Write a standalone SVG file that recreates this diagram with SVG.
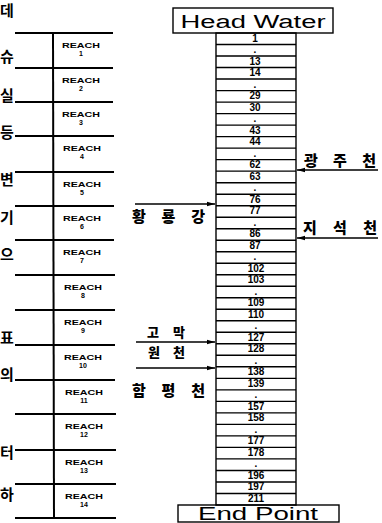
<svg xmlns="http://www.w3.org/2000/svg" width="382" height="523" viewBox="0 0 382 523">
<style>
.ln{stroke:#000;stroke-width:2;fill:none}
.cl{stroke:#000;stroke-width:1.4;fill:none}
.rc{font-family:"Liberation Sans",Arial,sans-serif;font-size:7px;font-weight:bold;text-anchor:middle}
.num{font-family:"Liberation Sans",Arial,sans-serif;font-size:10px;font-weight:bold;text-anchor:middle}
.kr{font-family:"Noto Sans CJK KR",sans-serif;font-size:15px;font-weight:900}
.kr2{font-family:"Noto Sans CJK KR",sans-serif;font-size:13px;font-weight:900}
.side{font-family:"Noto Sans CJK KR",sans-serif;font-size:15px;font-weight:bold}
.big{font-family:"Liberation Sans",Arial,sans-serif;font-size:18px;text-anchor:middle}
.arr{stroke:#000;stroke-width:1.6;fill:none;marker-end:url(#ah)}
</style>
<defs>
<marker id="ah" markerWidth="8" markerHeight="6" refX="8" refY="3" orient="auto" markerUnits="userSpaceOnUse">
<path d="M0,0.8 L8,3 L0,5.2 Z" fill="#000"/>
</marker>
</defs>
<rect width="382" height="523" fill="#fff"/>

<g id="side-text">
<text class="side" x="0" y="16">데</text>
<text class="side" x="0" y="62">슈</text>
<text class="side" x="0" y="101">실</text>
<text class="side" x="0" y="138">등</text>
<text class="side" x="0" y="185">변</text>
<text class="side" x="0" y="223">기</text>
<text class="side" x="0" y="260">으</text>
<text class="side" x="0" y="343">표</text>
<text class="side" x="0" y="380">의</text>
<text class="side" x="0" y="458">터</text>
<text class="side" x="0" y="500">하</text>
</g>

<g id="reach-table">
<line class="ln" x1="53" y1="33" x2="54" y2="518"/>
<line class="ln" x1="15" y1="33" x2="113" y2="33"/>
<line class="ln" x1="15" y1="68" x2="113" y2="68"/>
<line class="ln" x1="15" y1="102" x2="113" y2="102"/>
<line class="ln" x1="15" y1="136" x2="114" y2="136"/>
<line class="ln" x1="15" y1="172" x2="114" y2="172"/>
<line class="ln" x1="15" y1="206" x2="114" y2="206"/>
<line class="ln" x1="15" y1="240" x2="114" y2="240"/>
<line class="ln" x1="15" y1="275" x2="115" y2="275"/>
<line class="ln" x1="15" y1="310" x2="115" y2="310"/>
<line class="ln" x1="15" y1="345" x2="115" y2="345"/>
<line class="ln" x1="15" y1="380" x2="115" y2="380"/>
<line class="ln" x1="15" y1="414" x2="116" y2="414"/>
<line class="ln" x1="15" y1="450" x2="116" y2="450"/>
<line class="ln" x1="15" y1="484" x2="116" y2="484"/>
<line class="ln" x1="15" y1="518" x2="116" y2="518"/>
</g>
<g id="reach-labels">
<text class="rc" x="81" y="48" textLength="38" lengthAdjust="spacingAndGlyphs">REACH</text><text class="rc" x="81" y="56">1</text>
<text class="rc" x="81" y="83" textLength="38" lengthAdjust="spacingAndGlyphs">REACH</text><text class="rc" x="81" y="91">2</text>
<text class="rc" x="81" y="117" textLength="38" lengthAdjust="spacingAndGlyphs">REACH</text><text class="rc" x="81" y="125">3</text>
<text class="rc" x="82" y="151" textLength="38" lengthAdjust="spacingAndGlyphs">REACH</text><text class="rc" x="82" y="159">4</text>
<text class="rc" x="82" y="187" textLength="38" lengthAdjust="spacingAndGlyphs">REACH</text><text class="rc" x="82" y="195">5</text>
<text class="rc" x="82" y="221" textLength="38" lengthAdjust="spacingAndGlyphs">REACH</text><text class="rc" x="82" y="229">6</text>
<text class="rc" x="82" y="255" textLength="38" lengthAdjust="spacingAndGlyphs">REACH</text><text class="rc" x="82" y="263">7</text>
<text class="rc" x="83" y="290" textLength="38" lengthAdjust="spacingAndGlyphs">REACH</text><text class="rc" x="83" y="298">8</text>
<text class="rc" x="83" y="325" textLength="38" lengthAdjust="spacingAndGlyphs">REACH</text><text class="rc" x="83" y="333">9</text>
<text class="rc" x="83" y="360" textLength="38" lengthAdjust="spacingAndGlyphs">REACH</text><text class="rc" x="83" y="368">10</text>
<text class="rc" x="84" y="395" textLength="38" lengthAdjust="spacingAndGlyphs">REACH</text><text class="rc" x="84" y="403">11</text>
<text class="rc" x="84" y="429" textLength="38" lengthAdjust="spacingAndGlyphs">REACH</text><text class="rc" x="84" y="437">12</text>
<text class="rc" x="84" y="465" textLength="38" lengthAdjust="spacingAndGlyphs">REACH</text><text class="rc" x="84" y="473">13</text>
<text class="rc" x="84" y="499" textLength="38" lengthAdjust="spacingAndGlyphs">REACH</text><text class="rc" x="84" y="507">14</text>
</g>

<g id="head-water">
<rect class="cl" x="173" y="8" width="160" height="25" stroke-width="1.8"/>
<text class="big" x="253" y="28" textLength="145" lengthAdjust="spacingAndGlyphs">Head Water</text>
</g>

<g id="cells">
<rect class="cl" x="216" y="33" width="80" height="472" stroke-width="1.8"/>
<path class="cl" d="M216,44.5H296M216,56H296M216,67.5H296M216,79H296M216,90.6H296M216,102.1H296M216,113.6H296M216,125.1H296M216,136.6H296M216,148.1H296M216,159.6H296M216,171.1H296M216,182.7H296M216,194.2H296M216,205.7H296M216,217.2H296M216,228.7H296M216,240.2H296M216,251.7H296M216,263.2H296M216,274.8H296M216,286.3H296M216,297.8H296M216,309.3H296M216,320.8H296M216,332.3H296M216,343.8H296M216,355.3H296M216,366.8H296M216,378.4H296M216,389.9H296M216,401.4H296M216,412.9H296M216,424.4H296M216,435.9H296M216,447.4H296M216,458.9H296M216,470.5H296M216,482H296M216,493.5H296"/>
<text class="num" x="255" y="42">1</text>
<text class="num" x="255" y="53">.</text>
<text class="num" x="255" y="65">13</text>
<text class="num" x="255" y="76">14</text>
<text class="num" x="255" y="88">.</text>
<text class="num" x="255" y="99">29</text>
<text class="num" x="255" y="111">30</text>
<text class="num" x="255" y="122">.</text>
<text class="num" x="255" y="134">43</text>
<text class="num" x="255" y="145">44</text>
<text class="num" x="255" y="157">.</text>
<text class="num" x="255" y="168">62</text>
<text class="num" x="255" y="180">63</text>
<text class="num" x="255" y="191">.</text>
<text class="num" x="255" y="203">76</text>
<text class="num" x="255" y="214">77</text>
<text class="num" x="255" y="226">.</text>
<text class="num" x="255" y="237">86</text>
<text class="num" x="255" y="249">87</text>
<text class="num" x="255" y="260">.</text>
<text class="num" x="256" y="272">102</text>
<text class="num" x="256" y="283">103</text>
<text class="num" x="256" y="295">.</text>
<text class="num" x="256" y="306">109</text>
<text class="num" x="256" y="318">110</text>
<text class="num" x="256" y="329">.</text>
<text class="num" x="256" y="341">127</text>
<text class="num" x="256" y="352">128</text>
<text class="num" x="256" y="364">.</text>
<text class="num" x="256" y="375">138</text>
<text class="num" x="256" y="387">139</text>
<text class="num" x="256" y="398">.</text>
<text class="num" x="256" y="410">157</text>
<text class="num" x="256" y="421">158</text>
<text class="num" x="256" y="433">.</text>
<text class="num" x="256" y="444">177</text>
<text class="num" x="256" y="456">178</text>
<text class="num" x="256" y="467">.</text>
<text class="num" x="256" y="479">196</text>
<text class="num" x="256" y="490">197</text>
<text class="num" x="256" y="502">211</text>
</g>

<g id="end-point">
<rect class="cl" x="178" y="505" width="161" height="17" stroke-width="1.8"/>
<text class="big" x="258" y="520" font-size="17" textLength="120" lengthAdjust="spacingAndGlyphs">End Point</text>
</g>

<g id="tributary-labels">
<text class="kr" x="304" y="166" textLength="72" lengthAdjust="spacing">광 주 천</text>
<text class="kr" x="303" y="233" textLength="74" lengthAdjust="spacing">지 석 천</text>
<text class="kr" x="132" y="222" textLength="73" lengthAdjust="spacing">황룡강</text>
<text class="kr2" x="147" y="337" textLength="38" lengthAdjust="spacing">고막</text>
<text class="kr2" x="148" y="357" textLength="37" lengthAdjust="spacing">원천</text>
<text class="kr" x="132" y="396" textLength="73" lengthAdjust="spacing">함 평 천</text>
</g>

<g id="connectors">
<line class="arr" x1="378" y1="170" x2="297" y2="170"/>
<line class="arr" x1="378" y1="238" x2="297" y2="238"/>
<line class="arr" x1="135" y1="204" x2="215" y2="204"/>
<line class="arr" x1="136" y1="342" x2="215" y2="342"/>
<line class="arr" x1="136" y1="368" x2="215" y2="368"/>
</g>
</svg>
